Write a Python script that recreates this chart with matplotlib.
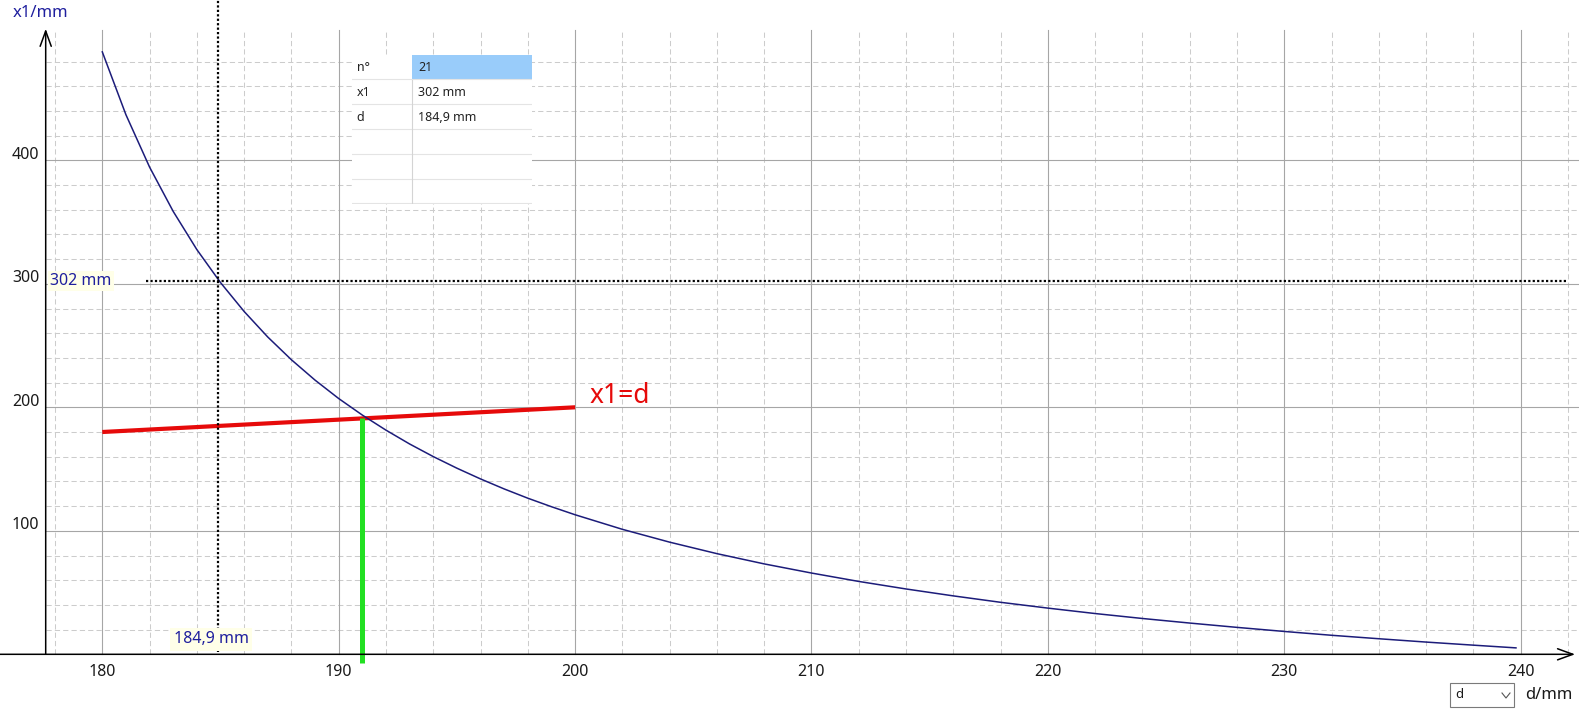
import matplotlib
matplotlib.use('Agg')
import matplotlib.pyplot as plt
from matplotlib.lines import Line2D
from matplotlib.patches import Rectangle

plt.rcParams['font.family'] = ['Noto Sans', 'DejaVu Sans']

# ---------------- 数据 ----------------
d_vals = [180, 181, 182, 183, 184, 185, 186, 187, 188, 189, 190, 191, 192, 193, 194, 195,
          196, 197, 198, 199, 200, 202, 204, 206, 208, 210, 212, 214, 216, 218, 220, 222,
          224, 226, 228, 230, 232, 234, 236, 238, 239.8]
x1_vals = [487.8, 436.9, 394.5, 358.6, 327.7, 301.0, 277.6, 256.9, 238.5, 222.0, 207.1,
           193.7, 181.5, 170.3, 160.1, 150.7, 142.0, 133.9, 126.4, 119.5, 113.0, 101.2,
           90.8, 81.5, 73.2, 65.8, 59.0, 52.9, 47.3, 42.1, 37.4, 33.0, 29.0, 25.3, 21.8,
           18.5, 15.4, 12.6, 9.9, 7.4, 5.2]

line_d = [180, 200]          # x1 = d
line_x1 = [180, 200]
cross_d = 191.0              # 交点
cross_x1 = 191.5

sel_n = 21
sel_x1 = 302
sel_d = 184.9

x_ticks = [180, 190, 200, 210, 220, 230, 240]
y_ticks = [100, 200, 300, 400]
x_minor = [v for v in range(178, 243, 2) if v % 10 != 0]
y_minor = [v for v in range(20, 481, 20) if v % 100 != 0]

table_labels = ['n°', 'x1', 'd', '', '', '']
table_values = [str(sel_n), f'{sel_x1} mm', f'{sel_d:.1f} mm'.replace('.', ','), '', '', '']

# ---------------- 画布 ----------------
W, H = 1579, 710
fig = plt.figure(figsize=(W / 100, H / 100), dpi=100)
ax = fig.add_axes([0, 0, 1, 1])
ax.set_xlim(175.673, 242.466)
ax.set_ylim(-45.1, 529.8)
ax.axis('off')

y_axis_x = 177.606
y_top = 505.8
x_right = 242.466

# 网格
grid_major = '#a6a6a6'
grid_minor = '#cccccc'
for v in x_minor:
    ax.plot([v, v], [0, y_top], color=grid_minor, lw=0.75, ls=(0, (5, 3)), zorder=1)
for v in y_minor:
    ax.plot([y_axis_x, x_right], [v, v], color=grid_minor, lw=0.75, ls=(0, (5, 3)), zorder=1)
for v in x_ticks:
    ax.plot([v, v], [0, y_top], color=grid_major, lw=0.8, zorder=1)
for v in y_ticks:
    ax.plot([y_axis_x, x_right], [v, v], color=grid_major, lw=0.8, zorder=1)

# 坐标轴 + 箭头
arrow = dict(arrowstyle='->,head_length=1.1,head_width=0.4', lw=1.1,
             color='black', shrinkA=0, shrinkB=0)
ax.annotate('', xy=(y_axis_x, 506.5), xytext=(y_axis_x, 0), arrowprops=arrow, zorder=5)
ax.annotate('', xy=(242.3, 0), xytext=(175.673, 0), arrowprops=arrow, zorder=5)

# 刻度标签
for v in x_ticks:
    ax.text(v, -14.5, str(v), ha='center', va='center', fontsize=11.5, color='#1a1a1a')
for v in y_ticks:
    ax.text(177.34, v + 4.5, str(v), ha='right', va='center', fontsize=11.5, color='#1a1a1a')

ax.text(176.2, 519.5, 'x1/mm', ha='left', va='center', fontsize=12, color='#1f1f9e')
ax.text(242.17, -33, 'd/mm', ha='right', va='center', fontsize=12, color='#1a1a1a')

# 下拉框
fig.patches.append(Rectangle((1450 / W, 1 - 707 / H), 64 / W, 24 / H,
                             transform=fig.transFigure, facecolor='white',
                             edgecolor='#7a7a7a', lw=0.8))
fig.text(1455 / W, 1 - 695 / H, 'd', ha='left', va='center', fontsize=9.5, color='#1a1a1a')
fig.lines.append(Line2D([1502 / W, 1506 / W, 1510 / W],
                        [1 - 693 / H, 1 - 698 / H, 1 - 693 / H],
                        transform=fig.transFigure, color='#555555', lw=0.8))

# 曲线
ax.plot(d_vals, x1_vals, color='#1c1c7a', lw=1.1, zorder=4)

# x1 = d 直线
ax.plot(line_d, line_x1, color='#e60a0a', lw=3.0, solid_capstyle='butt', zorder=3)
ax.text(200.6, 203.5, 'x1=d', ha='left', va='baseline', fontsize=19, color='#e60a0a')

# 交点竖线
ax.plot([cross_d, cross_d], [-7, cross_x1], color='#22e022', lw=3.6,
        solid_capstyle='butt', zorder=3)

# 选中点的虚线
ax.plot([sel_d, sel_d], [1.5, 529.8], color='black', lw=1.6, ls=(0, (1, 1)), zorder=6)
ax.plot([181.85, 241.9], [sel_x1, sel_x1], color='black', lw=1.6, ls=(0, (1, 1)), zorder=6)

ax.text(177.8, sel_x1, f'{sel_x1} mm', ha='left', va='center', fontsize=11.5,
        color='#1f1f9e', zorder=7,
        bbox=dict(facecolor='#ffffe8', edgecolor='none', pad=1.5))
ax.text(184.6, 12, table_values[2], ha='center', va='center',
        fontsize=11.5, color='#1f1f9e', zorder=7,
        bbox=dict(facecolor='#ffffe8', edgecolor='none', pad=2.5))

# 信息表格（像素坐标）
tw, th = 180.6, 149.3
tax = fig.add_axes([351.7 / W, 1 - 204.3 / H, tw / W, th / H])
tax.set_xlim(0, tw)
tax.set_ylim(th, 0)
tax.axis('off')
tax.add_patch(Rectangle((0, 0), tw, th, facecolor='white', edgecolor='none'))
col_x = 60.0
row_h = th / len(table_labels)
tax.add_patch(Rectangle((col_x, 0), tw - col_x, row_h - 0.6, facecolor='#99ccfa',
                        edgecolor='none'))
for i, (lab, val) in enumerate(zip(table_labels, table_values)):
    yc = (i + 0.5) * row_h
    tax.plot([0, tw], [(i + 1) * row_h - 0.8] * 2, color='#e4e4e4', lw=0.8)
    tax.text(5, yc, lab, ha='left', va='center', fontsize=9, color='#222222')
    tax.text(col_x + 6.5, yc, val, ha='left', va='center', fontsize=9, color='#222222')
tax.plot([col_x, col_x], [row_h, th], color='#d4d4d4', lw=0.8)

fig.savefig('out.png', dpi=100, facecolor='white')
